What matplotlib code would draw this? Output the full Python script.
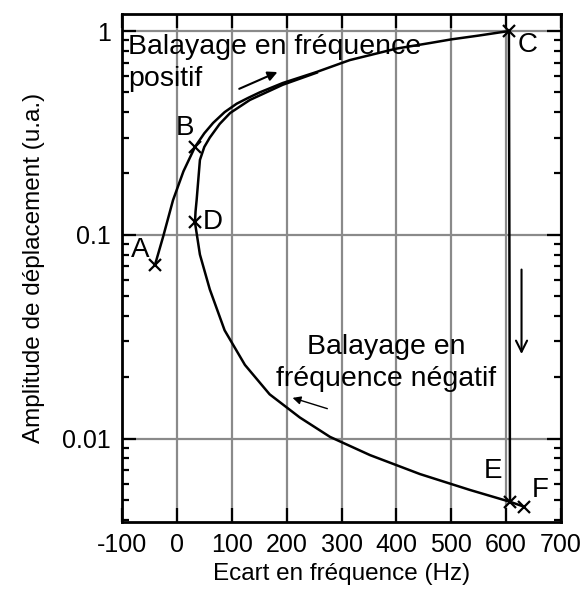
import matplotlib
matplotlib.use('Agg')
import matplotlib.pyplot as plt
from matplotlib.ticker import FixedLocator, LogLocator, NullFormatter

plt.rcParams['font.family'] = ['Liberation Sans', 'DejaVu Sans']
plt.rcParams['axes.unicode_minus'] = False

# positive sweep: A -> B -> C
up_freq = [-40, -25, -7, 12, 33, 50, 66, 87, 109, 130, 151, 193, 255, 315, 400, 461, 500, 550, 605]
up_amp = [0.071, 0.098, 0.148, 0.205, 0.27, 0.315, 0.354, 0.40, 0.44, 0.47, 0.50, 0.556, 0.63, 0.72, 0.82, 0.873, 0.91, 0.95, 1.0]

# negative sweep: E -> D -> back up to the upper branch
down_freq = [607, 534, 443, 352, 279, 224, 169, 124, 87, 60, 42, 33, 34, 36, 42, 50, 60, 78, 97, 133, 193, 255]
down_amp = [0.0049, 0.0056, 0.0067, 0.0083, 0.0102, 0.0127, 0.0165, 0.023, 0.034, 0.054, 0.080, 0.115, 0.13, 0.148, 0.233, 0.27, 0.30, 0.35, 0.396, 0.459, 0.545, 0.625]

# jump from C down to E, then on to F
jump_freq = [605, 607, 632]
jump_amp = [1.0, 0.0049, 0.00464]

pt_names = ['A', 'B', 'C', 'D', 'E', 'F']
pt_freq = [-40, 33, 605, 33, 607, 632]
pt_amp = [0.071, 0.27, 1.0, 0.115, 0.0049, 0.00464]
label_freq = [-67, 15, 640, 65, 576, 662]
label_amp = [0.084, 0.335, 0.85, 0.116, 0.0069, 0.0056]

x_ticks = [-100, 0, 100, 200, 300, 400, 500, 600, 700]
y_ticks = [0.01, 0.1, 1]
y_ticklabels = ['0.01', '0.1', '1']

fig = plt.figure(figsize=(5.82, 5.90), dpi=100)
ax = fig.add_axes([0.2096, 0.1153, 0.7544, 0.8607])

ax.set_yscale('log')
ax.set_xlim(-100, 700)
ax.set_ylim(0.0039, 1.21)

ax.plot(up_freq, up_amp, color='black', lw=1.8, zorder=3)
ax.plot(down_freq, down_amp, color='black', lw=1.8, zorder=3)
ax.plot(jump_freq, jump_amp, color='black', lw=1.8, zorder=3)
ax.plot(pt_freq, pt_amp, ls='none', marker='x', ms=9, mew=1.6, color='black', zorder=4)

for name, fx, fy in zip(pt_names, label_freq, label_amp):
    ax.text(fx, fy, name, fontsize=20, ha='center', va='center', zorder=5)

ax.text(-89, 0.70, 'Balayage en fréquence\npositif', fontsize=20.5,
        ha='left', va='center', linespacing=1.3, zorder=5)
ax.text(382, 0.0235, 'Balayage en\nfréquence négatif', fontsize=20.5,
        ha='center', va='center', linespacing=1.3, zorder=5)

# sweep direction arrows
ax.annotate('', xy=(188, 0.637), xytext=(109, 0.514),
            arrowprops=dict(arrowstyle='-|>', color='black', lw=1.5, mutation_scale=14))
ax.annotate('', xy=(206, 0.016), xytext=(279, 0.0139),
            arrowprops=dict(arrowstyle='-|>', color='black', lw=1.0, mutation_scale=12))
ax.annotate('', xy=(628, 0.0252), xytext=(628, 0.0697),
            arrowprops=dict(arrowstyle='->', color='black', lw=1.5, mutation_scale=20))

ax.xaxis.set_major_locator(FixedLocator(x_ticks))
ax.set_yticks(y_ticks)
ax.set_yticklabels(y_ticklabels)
ax.yaxis.set_minor_locator(LogLocator(base=10, subs=range(2, 10)))
ax.yaxis.set_minor_formatter(NullFormatter())

ax.grid(True, which='major', color='#8a8a8a', lw=1.6, zorder=0)
ax.set_axisbelow(True)
ax.tick_params(which='both', direction='in', top=True, right=True,
               labelsize=18, width=1.6, pad=8)
ax.tick_params(which='major', length=10)
ax.tick_params(which='minor', length=5)
for sp in ax.spines.values():
    sp.set_linewidth(2.0)

ax.set_xlabel('Ecart en fréquence (Hz)', fontsize=17.5, labelpad=4)
ax.set_ylabel('Amplitude de déplacement (u.a.)', fontsize=17.5, labelpad=12)

fig.savefig('out.png', dpi=100)
